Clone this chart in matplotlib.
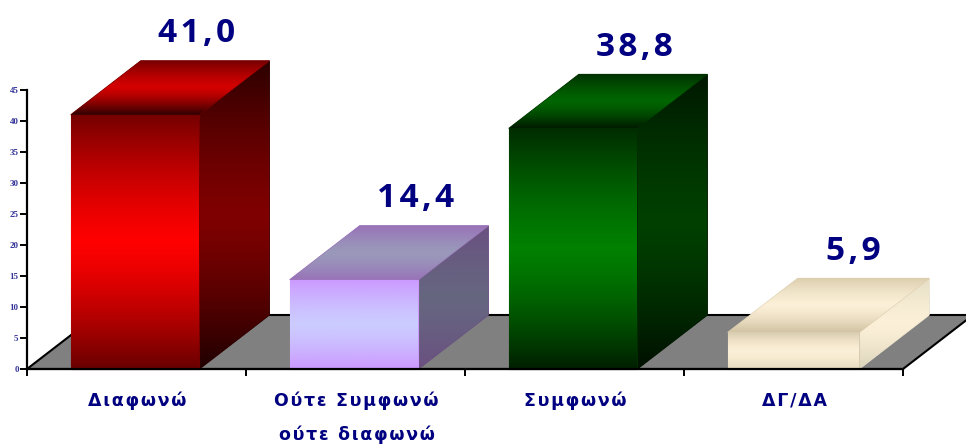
import numpy as np
import matplotlib
matplotlib.use('Agg')
import matplotlib.pyplot as plt
from matplotlib.colors import LinearSegmentedColormap
from matplotlib.patches import Polygon

categories = ['Διαφωνώ', 'Ούτε Συμφωνώ\nούτε διαφωνώ', 'Συμφωνώ', 'ΔΓ/ΔΑ']
values = [41.0, 14.4, 38.8, 5.9]
value_labels = ['41,0', '14,4', '38,8', '5,9']
y_ticks = [0, 5, 10, 15, 20, 25, 30, 35, 40, 45]

# gradients per bar, from top to bottom of each face
front_colors = [['#750000', '#ff0000', '#6a0000'],
                ['#cc99ff', '#ccccff', '#cc99ff'],
                ['#002c00', '#008000', '#002000'],
                ['#d8ccb0', '#fdf0d8', '#e6dbc0']]
top_colors = [['#750000', '#d40000', '#300000'],
              ['#9a72b8', '#9999bb', '#9a72b8'],
              ['#003000', '#006600', '#001c00'],
              ['#dccfb0', '#fcf0d8', '#d2c4a4']]
side_colors = [['#2c0000', '#800000', '#200000'],
               ['#6a4f80', '#666680', '#6a4f80'],
               ['#001800', '#004000', '#001000'],
               ['#e6dec6', '#fcf0d8', '#dcd4bc']]
bar_widths = [0.587, 0.587, 0.587, 0.6]

BAR_OFFSET = 0.2
DEPTH_X = 70 / 219
DEPTH_Y = 54 / 6.2
NAVY = '#000080'


def spaced(text):
    # the original has wide letter spacing
    return '\n'.join('\u200a'.join(line) for line in text.split('\n'))


def gradient_face(ax, points, colors, zorder):
    xs = [p[0] for p in points]
    ys = [p[1] for p in points]
    # solid base so that no white shows along the shared edges
    ax.add_patch(Polygon(points, facecolor=colors[0], edgecolor=colors[0], linewidth=0.8, zorder=zorder))
    cmap = LinearSegmentedColormap.from_list('face', colors)
    s = np.linspace(0, 1, 256)
    # a little flatter around the bright band than a straight ramp
    eased = np.where(s < 0.5, 0.5 * np.sin(np.pi * s), 1 - 0.5 * np.sin(np.pi * s))
    t = 0.5 * s + 0.5 * eased
    im = ax.imshow(t.reshape(-1, 1), cmap=cmap, aspect='auto', vmin=0, vmax=1,
                   extent=(min(xs), max(xs), min(ys), max(ys)), origin='upper',
                   interpolation='bilinear', zorder=zorder)
    im.set_clip_path(Polygon(points, transform=ax.transData))


fig = plt.figure(figsize=(9.66, 4.45), dpi=100)
ax = fig.add_axes([0, 0, 1, 1])
ax.patch.set_visible(False)

# floor
floor = Polygon([(0, 0), (4, 0), (4 + DEPTH_X, DEPTH_Y), (DEPTH_X, DEPTH_Y)],
                facecolor='#808080', edgecolor='black', linewidth=1.5, zorder=1)
ax.add_patch(floor)

for i, value in enumerate(values):
    x0 = i + BAR_OFFSET
    x1 = x0 + bar_widths[i]
    gradient_face(ax, [(x1, 0), (x1 + DEPTH_X, DEPTH_Y), (x1 + DEPTH_X, value + DEPTH_Y),
                       (x1, value)], side_colors[i], 3)
    gradient_face(ax, [(x0, value), (x1, value), (x1 + DEPTH_X, value + DEPTH_Y),
                       (x0 + DEPTH_X, value + DEPTH_Y)], top_colors[i], 3)
    gradient_face(ax, [(x0, 0), (x1, 0), (x1, value), (x0, value)], front_colors[i], 3)
    ax.text(x0 + 0.587 / 2 + 0.28, value + DEPTH_Y + 3.0, spaced(value_labels[i]),
            ha='center', va='baseline', fontsize=24, fontweight='bold', color=NAVY,
            family='Open Sans', zorder=5)

ax.set_xlim(-27 / 219, (966 - 27) / 219)
ax.set_ylim(-(445 - 369) / 6.2, 369 / 6.2)

for name in ['top', 'right']:
    ax.spines[name].set_visible(False)
ax.spines['left'].set_position(('data', 0))
ax.spines['left'].set_bounds(0, 45)
ax.spines['bottom'].set_position(('data', 0))
ax.spines['bottom'].set_bounds(0, 4)
for name in ['left', 'bottom']:
    ax.spines[name].set_linewidth(1.6)
    ax.spines[name].set_zorder(4)

ax.set_yticks(y_ticks)
ax.tick_params(axis='y', length=5, width=1.4, pad=1, labelsize=6.5, labelcolor='#333399')
for label in ax.get_yticklabels():
    label.set_family('Liberation Serif')
    label.set_fontweight('bold')

ax.set_xticks(range(5))
ax.set_xticklabels([])
ax.tick_params(axis='x', which='major', length=5, width=1.4)
ax.set_xticks([i + 0.505 for i in range(4)], minor=True)
ax.set_xticklabels([spaced(c) for c in categories], minor=True)
ax.tick_params(axis='x', which='minor', length=0, pad=16, labelsize=12.5, labelcolor=NAVY)
for label in ax.get_xticklabels(minor=True):
    label.set_family('DejaVu Sans')
    label.set_fontweight('bold')
    label.set_linespacing(2.1)

fig.savefig('out.png', dpi=100)
